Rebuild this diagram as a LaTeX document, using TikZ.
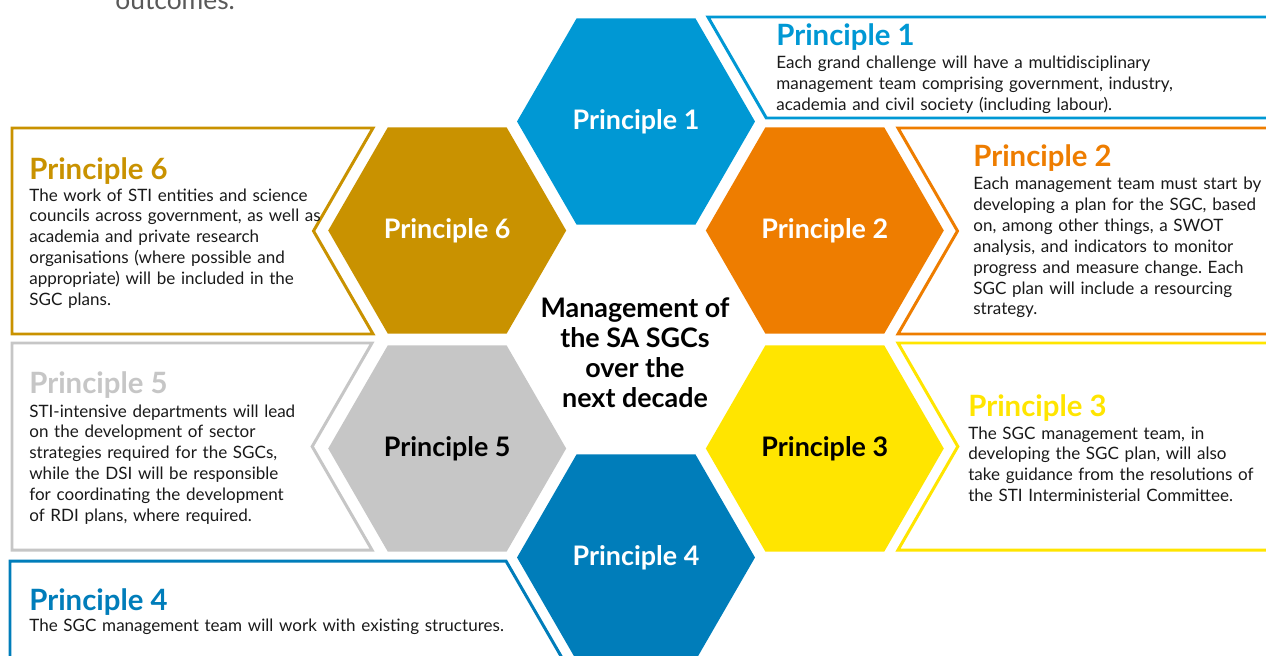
\documentclass[tikz,border=0pt]{standalone}
\usepackage{fontspec}
\setmainfont{Lato}
\usetikzlibrary{shapes.geometric}

\definecolor{pblue}{RGB}{0,152,212}
\definecolor{porange}{RGB}{238,125,0}
\definecolor{pyellow}{RGB}{255,229,0}
\definecolor{pdblue}{RGB}{0,125,186}
\definecolor{pgray}{RGB}{198,198,198}
\definecolor{pgold}{RGB}{201,146,0}
\definecolor{bodyink}{RGB}{26,26,26}

\tikzset{
  hexa/.style={regular polygon, regular polygon sides=6, minimum size=4.76cm,
    inner sep=0pt, font=\bfseries\fontsize{15.3}{17}\selectfont},
  boxline/.style={line width=1.7pt, fill=white},
  ptitle/.style={anchor=base west, inner sep=0pt, font=\bfseries\fontsize{16.7}{19}\selectfont},
  pbody/.style={anchor=base west, inner sep=0pt, text width=12cm, align=left,
    text=bodyink, font=\frenchspacing\fontsize{9.7}{11.85}\selectfont},
}

\begin{document}
\begin{tikzpicture}[x=0.02cm,y=-0.02cm]
\useasboundingbox (0,0) rectangle (1266,655);
\clip (0,0) rectangle (1266,655);

% end of the text above the figure
\node[anchor=base west, inner sep=0pt, text=black!65, font=\fontsize{15}{18}\selectfont] (outc) at (115,10) {outcomes.};

% outlined boxes
\draw[boxline, draw=pblue] (708,17) -- (1290,17) -- (1290,118) -- (766.3,118) -- cycle;
\draw[boxline, draw=porange] (898,128) -- (1290,128) -- (1290,334) -- (898,334) -- (957.5,231) -- cycle;
\draw[boxline, draw=pyellow] (898,343) -- (1290,343) -- (1290,550) -- (898,550) -- (957.8,446.5) -- cycle;
\draw[boxline, draw=pgold] (12,128) -- (373,128) -- (313.5,231) -- (373,334) -- (12,334) -- cycle;
\draw[boxline, draw=pgray] (12,343) -- (372,343) -- (312.2,446.5) -- (372,550) -- (12,550) -- cycle;
\draw[boxline, draw=pdblue] (10,561) -- (506,561) -- (575.4,681) -- (10,681) -- cycle;

% hexagons
\foreach \n/\x/\y/\c/\t in {1/636/121.5/pblue/white, 2/824.8/230.5/porange/white,
    3/824.8/448.5/pyellow/black, 4/636/557.5/pdblue/white,
    5/447.2/448.5/pgray/black, 6/447.2/230.5/pgold/white}
  \node[hexa, fill=\c, text=\t] (h\n) at (\x,\y) {Principle \n};

\node[align=center, inner sep=0pt, font=\bfseries\fontsize{15.3}{17}\selectfont] (mgmt) at (635,353)
  {Management of\\the SA SGCs\\over the\\next decade};

% principle texts
\node[ptitle, text=pblue] (t1) at (776,46) {Principle 1};
\node[pbody] (b1) at (776,69) {Each grand challenge will have a multidisciplinary\\
  management team comprising government, industry,\\
  academia and civil society (including labour).};

\node[ptitle, text=porange] (t2) at (973,167) {Principle 2};
\node[pbody] (b2) at (973,190) {Each management team must start by\\
  developing a plan for the SGC, based\\
  on, among other things, a SWOT\\
  analysis, and indicators to monitor\\
  progress and measure change. Each\\
  SGC plan will include a resourcing\\
  strategy.};

\node[ptitle, text=pyellow] (t3) at (968,416) {Principle 3};
\node[pbody] (b3) at (968,439) {The SGC management team, in\\
  developing the SGC plan, will also\\
  take guidance from the resolutions of\\
  the STI Interministerial Committee.};

\node[ptitle, text=pdblue] (t4) at (29,610) {Principle 4};
\node[pbody] (b4) at (29,631) {The SGC management team will work with existing structures.};

\node[ptitle, text=pgray] (t5) at (29,393) {Principle 5};
\node[pbody] (b5) at (29,417) {STI-intensive departments will lead\\
  on the development of sector\\
  strategies required for the SGCs,\\
  while the DSI will be responsible\\
  for coordinating the development\\
  of RDI plans, where required.};

\node[ptitle, text=pgold] (t6) at (29,179) {Principle 6};
\node[pbody] (b6) at (29,201) {The work of STI entities and science\\
  councils across government, as well as\\
  academia and private research\\
  organisations (where possible and\\
  appropriate) will be included in the\\
  SGC plans.};
\end{tikzpicture}
\end{document}
